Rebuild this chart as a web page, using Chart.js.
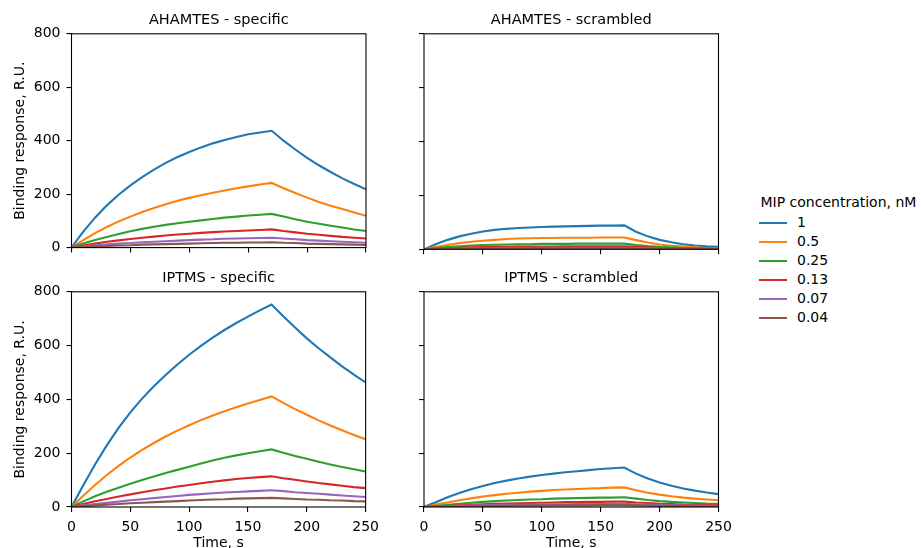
<!DOCTYPE html>
<html>
<head>
<meta charset="utf-8">
<script src="https://cdn.jsdelivr.net/npm/chart.js@4.4.1/dist/chart.umd.min.js"></script>
<style>
  html, body { margin: 0; padding: 0; background: #fff; overflow: hidden; width: 921px; height: 548px; }
  canvas { position: absolute; }
  #legend { position: absolute; left: 759px; top: 194px; font-family: 'DejaVu Sans', sans-serif; font-size: 14px; color: #000; }
  #legend .ttl { position: absolute; left: 1.5px; top: 0; white-space: nowrap; line-height: 17px; }
  #legend .item { position: absolute; left: 0; height: 17px; line-height: 17px; white-space: nowrap; }
  #legend .sw { position: absolute; left: 0; top: 7.5px; width: 28px; height: 2px; }
  #legend .lbl { position: absolute; left: 38px; top: 0; }
</style>
</head>
<body>
<canvas id="cTL" width="386" height="262" style="left:0;top:0"></canvas>
<canvas id="cTR" width="360" height="262" style="left:380px;top:0"></canvas>
<canvas id="cBL" width="386" height="302" style="left:0;top:258px"></canvas>
<canvas id="cBR" width="360" height="302" style="left:380px;top:258px"></canvas>
<div id="legend"></div>
<script>
// axes
const times = [0, 10, 20, 30, 40, 50, 60, 70, 80, 90, 100, 110, 120, 130, 140, 150, 160, 170, 180, 190, 200, 210, 220, 230, 240, 250];
const xTicks = [0, 50, 100, 150, 200, 250];
const yTicks = [0, 200, 400, 600, 800];
const concentrations = ['1', '0.5', '0.25', '0.13', '0.07', '0.04'];
const colors = ['#1f77b4', '#ff7f0e', '#2ca02c', '#d62728', '#9467bd', '#8c564b'];

// AHAMTES - specific
const ahSpec1 = [0, 60, 112, 158, 198, 233, 264, 292, 317, 339, 358, 375, 390, 403, 414, 424, 431, 437, 400, 367, 336, 308, 283, 259, 238, 218];
const ahSpec05 = [0, 28, 54, 77, 98, 116, 133, 148, 162, 175, 186, 196, 205, 214, 222, 229, 236, 242, 222, 204, 187, 171, 157, 144, 131, 119];
const ahSpec025 = [0, 15, 28, 40, 51, 61, 70, 78, 85, 91, 97, 102, 107, 112, 116, 120, 123, 126, 116, 106, 97, 89, 82, 75, 68, 62];
const ahSpec013 = [0, 8, 15, 22, 27, 32, 37, 41, 45, 49, 52, 55, 58, 60, 62, 64, 66, 68, 62, 57, 52, 48, 44, 40, 37, 34];
const ahSpec007 = [0, 4, 8, 12, 15, 17, 20, 22, 24, 26, 28, 30, 31, 33, 34, 35, 36, 37, 34, 31, 28, 26, 24, 22, 20, 18];
const ahSpec004 = [0, 2, 4, 6, 8, 9, 11, 12, 13, 14, 15, 16, 17, 18, 18, 19, 19, 20, 18, 17, 15, 14, 13, 12, 11, 10];

// AHAMTES - scrambled
const ahScr1 = [0, 19, 35, 48, 58, 66, 72, 76, 79, 81, 83, 84, 85, 86, 87, 88, 88, 89, 65, 48, 35, 26, 19, 14, 11, 9];
const ahScr05 = [0, 8, 16, 23, 28, 32, 35, 38, 40, 41, 42, 42, 43, 43, 43, 44, 44, 44, 34, 25, 18, 13, 10, 7, 5, 4];
const ahScr025 = [0, 4, 8, 11, 14, 16, 17, 18, 19, 19, 20, 20, 20, 21, 21, 21, 21, 21, 16, 12, 9, 7, 5, 4, 3, 2];
const ahScr013 = [0, 2, 4, 6, 7, 8, 9, 9, 10, 10, 10, 10, 11, 11, 11, 11, 11, 11, 9, 7, 5, 4, 3, 2, 2, 1];
const ahScr007 = [0, 1, 2, 3, 4, 4, 5, 5, 5, 5, 6, 6, 6, 6, 6, 6, 6, 6, 5, 4, 3, 2, 2, 1, 1, 1];
const ahScr004 = [0, 1, 1, 2, 2, 3, 3, 3, 3, 4, 4, 4, 4, 4, 4, 4, 4, 4, 3, 2, 2, 1, 1, 1, 1, 0];

// IPTMS - specific
const ipSpec1 = [0, 81, 158, 229, 294, 352, 403, 449, 491, 530, 566, 599, 630, 658, 684, 708, 731, 753, 709, 667, 627, 590, 556, 523, 492, 463];
const ipSpec05 = [0, 42, 82, 119, 153, 184, 212, 238, 262, 284, 304, 323, 340, 356, 371, 385, 398, 411, 387, 364, 343, 322, 303, 285, 268, 252];
const ipSpec025 = [0, 21, 40, 57, 72, 86, 100, 113, 126, 138, 150, 162, 173, 183, 192, 200, 207, 214, 202, 190, 179, 168, 158, 149, 140, 132];
const ipSpec013 = [0, 11, 21, 30, 39, 47, 55, 62, 69, 76, 82, 88, 94, 99, 104, 108, 111, 114, 107, 101, 95, 89, 84, 79, 74, 70];
const ipSpec007 = [0, 6, 11, 16, 20, 25, 29, 33, 37, 41, 45, 48, 51, 54, 56, 58, 60, 62, 59, 55, 52, 49, 46, 43, 40, 37];
const ipSpec004 = [0, 3, 6, 9, 11, 14, 16, 18, 20, 22, 24, 26, 28, 29, 31, 32, 33, 34, 32, 30, 28, 27, 25, 24, 22, 21];

// IPTMS - scrambled
const ipScr1 = [0, 18, 36, 52, 66, 78, 89, 98, 106, 113, 119, 124, 129, 133, 137, 141, 144, 147, 124, 106, 91, 79, 69, 61, 54, 48];
const ipScr05 = [0, 9, 17, 25, 32, 39, 44, 49, 53, 57, 60, 63, 65, 67, 69, 70, 72, 73, 62, 53, 46, 40, 35, 31, 28, 25];
const ipScr025 = [0, 4, 8, 12, 16, 19, 22, 24, 26, 28, 29, 31, 32, 33, 34, 35, 35, 36, 31, 26, 22, 19, 17, 15, 13, 12];
const ipScr013 = [0, 2, 4, 6, 8, 10, 12, 13, 14, 15, 16, 17, 18, 18, 19, 19, 20, 20, 17, 15, 12, 11, 9, 8, 7, 6];
const ipScr007 = [0, 1, 2, 4, 5, 6, 7, 8, 8, 9, 9, 10, 10, 11, 11, 11, 12, 12, 10, 9, 7, 6, 5, 5, 4, 4];
const ipScr004 = [0, 1, 1, 2, 3, 3, 4, 4, 5, 5, 5, 6, 6, 6, 6, 7, 7, 7, 6, 5, 4, 4, 3, 3, 2, 2];

const font = { family: "'DejaVu Sans', sans-serif", size: 14 };
const ink = '#000';

// black box around each plot area, drawn over the lines like matplotlib spines
const frame = {
  id: 'frame',
  afterDatasetsDraw(chart) {
    const { ctx, chartArea: a } = chart;
    ctx.save();
    ctx.strokeStyle = ink;
    ctx.lineWidth = 1.1;
    ctx.strokeRect(a.left, a.top, a.right - a.left, a.bottom - a.top);
    ctx.restore();
  }
};

function tickGrid() {
  return { drawOnChartArea: false, drawTicks: true, tickLength: 5, color: ink, lineWidth: 1.1 };
}

function makePanel(id, title, series, left, bottom) {
  new Chart(document.getElementById(id), {
    type: 'line',
    data: {
      datasets: series.map((vals, i) => ({
        label: concentrations[i],
        data: times.map((t, k) => ({ x: t, y: vals[k] })),
        borderColor: colors[i],
        backgroundColor: colors[i],
        borderWidth: 2.1,
        pointRadius: 0,
        tension: 0,
        order: series.length - i
      }))
    },
    options: {
      responsive: false,
      animation: false,
      layout: { padding: { top: 0, left: 0, right: left ? 20 : 21.5, bottom: bottom ? 8 : 0 } },
      plugins: {
        legend: { display: false },
        tooltip: { enabled: false },
        title: {
          display: true, text: title, color: ink, fullSize: false,
          font: { ...font, size: 14.5, weight: 'normal' }, padding: { top: 12, bottom: 4.4 }
        }
      },
      scales: {
        x: {
          type: 'linear', min: 0, max: 250,
          afterBuildTicks: s => { s.ticks = xTicks.map(v => ({ value: v })); },
          afterFit: s => { s.height = bottom ? 45 : 12.7; },
          grid: tickGrid(),
          border: { display: false },
          ticks: { display: bottom, padding: 7, color: ink, font },
          title: { display: bottom, text: 'Time, s', color: ink, font, padding: { top: 0, bottom: 0 } }
        },
        y: {
          min: 0, max: 800,
          afterBuildTicks: s => { s.ticks = yTicks.map(v => ({ value: v })); },
          afterFit: s => { s.width = left ? 71.5 : 44; },
          grid: tickGrid(),
          border: { display: false },
          ticks: { display: left, padding: 6, color: ink, font },
          title: { display: left, text: 'Binding response, R.U.', color: ink, font, padding: { top: 11.5, bottom: 0 } }
        }
      }
    },
    plugins: [frame]
  });
}

makePanel('cTL', 'AHAMTES - specific', [ahSpec1, ahSpec05, ahSpec025, ahSpec013, ahSpec007, ahSpec004], true, false);
makePanel('cTR', 'AHAMTES - scrambled', [ahScr1, ahScr05, ahScr025, ahScr013, ahScr007, ahScr004], false, false);
makePanel('cBL', 'IPTMS - specific', [ipSpec1, ipSpec05, ipSpec025, ipSpec013, ipSpec007, ipSpec004], true, true);
makePanel('cBR', 'IPTMS - scrambled', [ipScr1, ipScr05, ipScr025, ipScr013, ipScr007, ipScr004], false, true);

// shared legend
const legend = document.getElementById('legend');
let html = '<div class="ttl">MIP concentration, nM</div>';
concentrations.forEach((c, i) => {
  html += '<div class="item" style="top:' + (20.2 + i * 19) + 'px"><div class="sw" style="background:' + colors[i] + '"></div><span class="lbl">' + c + '</span></div>';
});
legend.innerHTML = html;
</script>
</body>
</html>
